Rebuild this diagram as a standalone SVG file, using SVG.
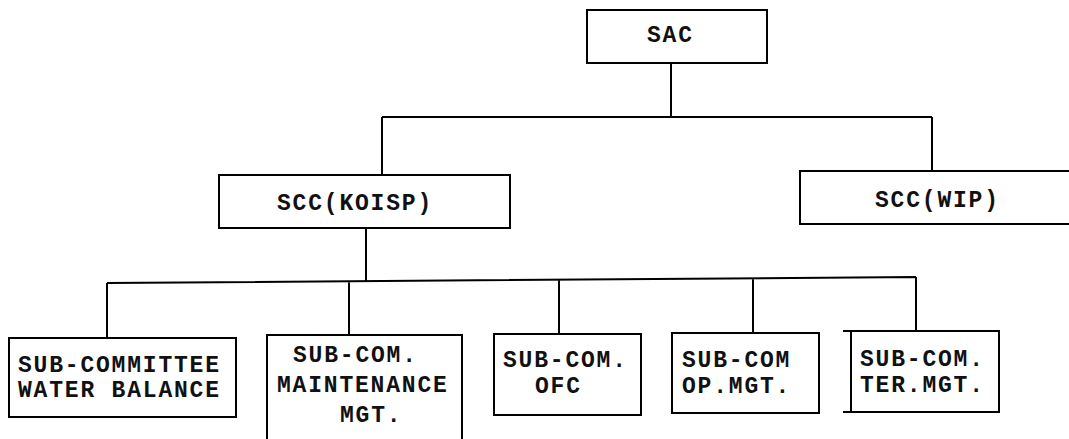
<svg xmlns="http://www.w3.org/2000/svg" width="1069" height="439" viewBox="0 0 1069 439">
<style>
.box{fill:#fff;stroke:#000;stroke-width:2}
.ln{fill:none;stroke:#000;stroke-width:2}
text{font-family:"Liberation Mono","Courier New",monospace;font-weight:bold;font-size:23px;letter-spacing:1.8px;fill:#111}
</style>
<rect width="1069" height="439" fill="#fff"/>
<g id="connectors">
<path class="ln" d="M671,63 V117 M382,117 H932 M382,117 V175 M932,117 V171"/>
<path class="ln" d="M366,228 V281 M107,283 L916,277 M107,283 V338 M349,281 V335 M559,280 V334 M753,278 V333 M916,277 V331"/>
</g>
<g id="n-sac">
<rect class="box" x="587" y="10" width="180" height="53"/>
<text x="647" y="42">SAC</text>
</g>
<g id="n-scc-koisp">
<rect class="box" x="219" y="175" width="291" height="53"/>
<text x="277" y="210">SCC(KOISP)</text>
</g>
<g id="n-scc-wip">
<rect class="box" x="800" y="171" width="280" height="53"/>
<text x="875" y="207">SCC(WIP)</text>
</g>
<g id="n-water">
<rect class="box" x="9" y="338" width="227" height="79"/>
<text x="18" y="372">SUB-COMMITTEE</text>
<text x="18" y="397">WATER BALANCE</text>
</g>
<g id="n-maint">
<rect class="box" x="267" y="335" width="195" height="115"/>
<text x="293" y="362">SUB-COM.</text>
<text x="277" y="392">MAINTENANCE</text>
<text x="340" y="422">MGT.</text>
</g>
<g id="n-ofc">
<rect class="box" x="494" y="334" width="147" height="81"/>
<text x="503" y="367">SUB-COM.</text>
<text x="535" y="393">OFC</text>
</g>
<g id="n-opmgt">
<rect class="box" x="672" y="333" width="147" height="80"/>
<text x="682" y="367">SUB-COM</text>
<text x="682" y="393">OP.MGT.</text>
</g>
<g id="n-termgt">
<rect class="box" x="851" y="331" width="148" height="81"/>
<path class="ln" d="M843,331 H851 M843,412 H851 M851,331 V412"/>
<text x="860" y="366">SUB-COM.</text>
<text x="860" y="392">TER.MGT.</text>
</g>
</svg>
